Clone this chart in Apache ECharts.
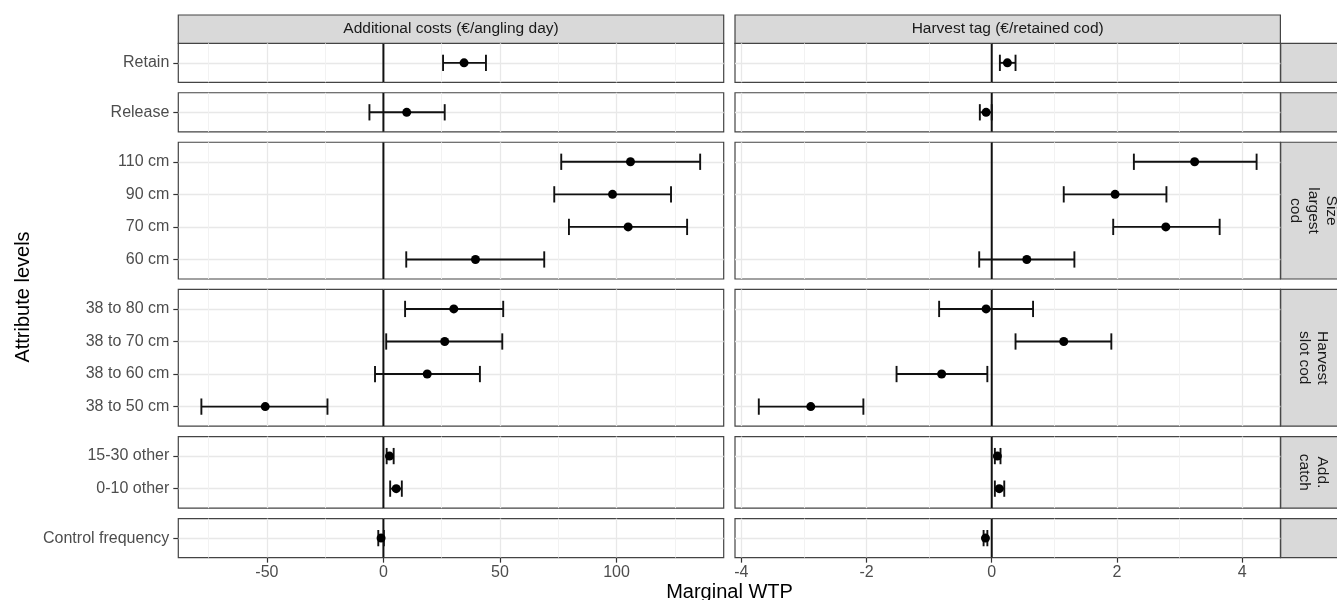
<!DOCTYPE html>
<html>
<head>
<meta charset="utf-8">
<script src="https://cdn.jsdelivr.net/npm/echarts@6.0.0/dist/echarts.min.js"></script>
<style>
  html, body { margin: 0; padding: 0; background: #fff; }
  #chart { width: 1337px; height: 600px; }
</style>
</head>
<body>
<div id="chart"></div>
<script>
// facet rows, top to bottom; levels listed top to bottom inside each row
const rowCategories = [
  ['Retain'],
  ['Release'],
  ['110 cm', '90 cm', '70 cm', '60 cm'],
  ['38 to 80 cm', '38 to 70 cm', '38 to 60 cm', '38 to 50 cm'],
  ['15-30 other', '0-10 other'],
  ['Control frequency']
]
const rowStrips = ['', '', 'Size\nlargest\ncod', 'Harvest\nslot cod', 'Add.\ncatch', '']
const colTitles = ['Additional costs (€/angling day)', 'Harvest tag (€/retained cod)']

// Additional costs (€/angling day), same order as the levels above
const costLow = [25.6, -6.0, 76.3, 73.3, 79.6, 9.8, 9.3, 1.2, -3.6, -78.1, 1.4, 2.9, -2.2]
const costEst = [34.6, 10.0, 106.0, 98.3, 105.0, 39.5, 30.2, 26.3, 18.8, -50.7, 2.6, 5.5, -1.0]
const costHigh = [44.0, 26.3, 135.9, 123.4, 130.3, 69.0, 51.4, 51.0, 41.4, -24.0, 4.4, 7.9, 0.2]

// Harvest tag (€/retained cod)
const tagLow = [0.13, -0.19, 2.27, 1.15, 1.94, -0.2, -0.84, 0.38, -1.52, -3.72, 0.05, 0.05, -0.13]
const tagEst = [0.25, -0.09, 3.24, 1.97, 2.78, 0.56, -0.09, 1.15, -0.8, -2.89, 0.09, 0.12, -0.1]
const tagHigh = [0.38, 0.0, 4.23, 2.79, 3.64, 1.32, 0.66, 1.91, -0.07, -2.05, 0.14, 0.2, -0.07]

const costTicks = [-50, 0, 50, 100]
const tagTicks = [-4, -2, 0, 2, 4]
const xRanges = [[-88, 146], [-4.1, 4.61]]

const columns = [
  { low: costLow, est: costEst, high: costHigh, ticks: costTicks, range: xRanges[0] },
  { low: tagLow, est: tagEst, high: tagHigh, ticks: tagTicks, range: xRanges[1] }
]

// layout (px)
const FONT = "'Liberation Sans', Arial, sans-serif"
const colLeft = [178.3, 735]
const colWidth = 545.4
const panelTop = 43.3
const step = 32.56
const gap = 10.4
const stripTop = 15
const stripRight = 1280.7

const chart = echarts.init(document.getElementById('chart'))

const grid = []
const xAxis = []
const yAxis = []
const series = []
const graphic = []

let rowTop = panelTop
let flat = 0
rowCategories.forEach(function (cats, row) {
  const n = cats.length
  const h = (n + 0.2) * step
  const last = row === rowCategories.length - 1
  const idx = cats.map(function (c, i) { return i })
  const offset = flat

  columns.forEach(function (col, c) {
    const g = grid.length
    grid.push({
      left: colLeft[c], top: rowTop, width: colWidth, height: h,
      show: true, backgroundColor: '#fff', borderColor: '#444', borderWidth: 1.2
    })
    xAxis.push({
      type: 'value', gridIndex: g, position: 'bottom',
      min: col.range[0], max: col.range[1],
      axisLine: { show: false, onZero: false },
      axisTick: { show: last, customValues: col.ticks, length: 5, lineStyle: { color: '#333', width: 1.2 } },
      axisLabel: {
        show: last, customValues: col.ticks, margin: 7,
        color: '#4D4D4D', fontSize: 16, fontFamily: FONT
      },
      splitLine: { show: true, lineStyle: { color: '#E8E8E8', width: 1.3 } },
      minorTick: { show: false, splitNumber: 2 },
      minorSplitLine: { show: true, lineStyle: { color: '#F0F0F0', width: 0.9 } }
    })
    yAxis.push({
      type: 'value', gridIndex: g, inverse: true, position: 'left',
      min: -0.6, max: n - 0.4, minInterval: 1,
      axisLine: { show: false, onZero: false },
      axisTick: { show: c === 0, customValues: idx, length: 5, lineStyle: { color: '#333', width: 1.2 } },
      axisLabel: {
        show: c === 0, customValues: idx, margin: 9,
        color: '#4D4D4D', fontSize: 16, fontFamily: FONT,
        formatter: function (v) { return cats[Math.round(v)] || '' }
      },
      splitLine: { show: true, lineStyle: { color: '#E8E8E8', width: 1.3 } }
    })

    const bars = []
    const pts = []
    for (let i = 0; i < n; i++) {
      bars.push([col.low[offset + i], col.high[offset + i], i])
      pts.push([col.est[offset + i], i])
    }

    series.push({
      type: 'custom', xAxisIndex: g, yAxisIndex: g, z: 1, silent: true,
      data: [[0, 0]],
      renderItem: function (params, api) {
        const cs = params.coordSys
        const x = api.coord([0, 0])[0]
        return {
          type: 'line',
          shape: { x1: x, y1: cs.y, x2: x, y2: cs.y + cs.height },
          style: { stroke: '#111', lineWidth: 2 }
        }
      }
    })
    series.push({
      type: 'custom', xAxisIndex: g, yAxisIndex: g, z: 3, silent: true,
      data: bars,
      encode: { x: [0, 1], y: 2 },
      renderItem: function (params, api) {
        const y = api.value(2)
        const a = api.coord([api.value(0), y])
        const b = api.coord([api.value(1), y])
        const half = Math.abs(api.size([0, 0.5])[1]) / 2
        const style = { stroke: '#111', lineWidth: 1.9 }
        return {
          type: 'group',
          children: [
            { type: 'line', shape: { x1: a[0], y1: a[1], x2: b[0], y2: b[1] }, style: style },
            { type: 'line', shape: { x1: a[0], y1: a[1] - half, x2: a[0], y2: a[1] + half }, style: style },
            { type: 'line', shape: { x1: b[0], y1: b[1] - half, x2: b[0], y2: b[1] + half }, style: style }
          ]
        }
      }
    })
    series.push({
      type: 'scatter', xAxisIndex: g, yAxisIndex: g, z: 4, silent: true,
      symbolSize: 9,
      itemStyle: { color: '#000', opacity: 1 },
      data: pts
    })
  })

  // right-hand strip
  graphic.push({
    type: 'rect', x: stripRight, y: rowTop, silent: true,
    shape: { x: 0, y: 0, width: 70, height: h },
    style: { fill: '#D9D9D9', stroke: '#444', lineWidth: 1.2 }
  })
  if (rowStrips[row]) {
    graphic.push({
      type: 'text', x: 1313, y: rowTop + h / 2, rotation: -Math.PI / 2, silent: true,
      style: {
        text: rowStrips[row], fill: '#1A1A1A', font: '15.5px ' + FONT,
        align: 'center', verticalAlign: 'middle', lineHeight: 18
      }
    })
  }

  flat += n
  rowTop += h + gap
})

// top strips
colTitles.forEach(function (t, c) {
  graphic.push({
    type: 'rect', x: colLeft[c], y: stripTop, silent: true,
    shape: { x: 0, y: 0, width: colWidth, height: panelTop - stripTop },
    style: { fill: '#D9D9D9', stroke: '#444', lineWidth: 1.2 }
  })
  graphic.push({
    type: 'text', x: colLeft[c] + colWidth / 2, y: (stripTop + panelTop) / 2, silent: true,
    style: { text: t, fill: '#1A1A1A', font: '15.5px ' + FONT, align: 'center', verticalAlign: 'middle' }
  })
})

// axis titles
graphic.push({
  type: 'text', x: (colLeft[0] + stripRight) / 2, y: 592, silent: true,
  style: { text: 'Marginal WTP', fill: '#000', font: '20px ' + FONT, align: 'center', verticalAlign: 'middle' }
})
graphic.push({
  type: 'text', x: 23, y: 297, rotation: Math.PI / 2, silent: true,
  style: { text: 'Attribute levels', fill: '#000', font: '20px ' + FONT, align: 'center', verticalAlign: 'middle' }
})

chart.setOption({
  animation: false,
  backgroundColor: '#fff',
  grid: grid,
  xAxis: xAxis,
  yAxis: yAxis,
  series: series,
  graphic: graphic
})
</script>
</body>
</html>
